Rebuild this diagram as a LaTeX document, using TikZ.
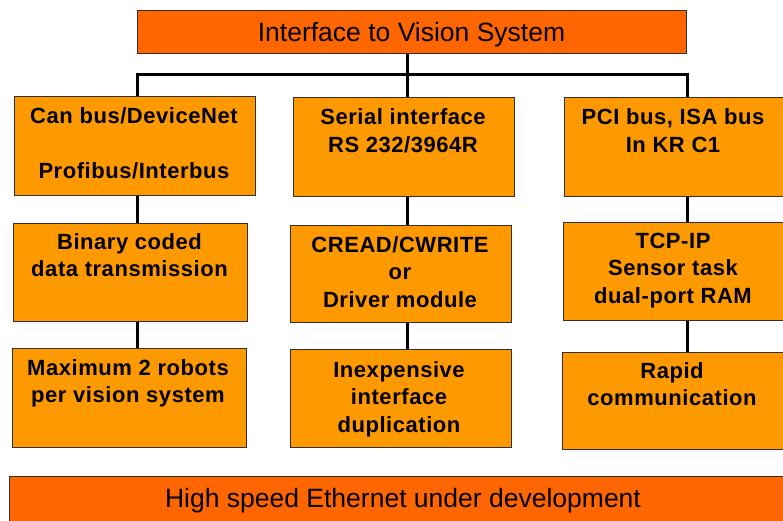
\documentclass[tikz,border=0pt]{standalone}
\usepackage{fontspec}
\setmainfont{Liberation Sans}
\newfontfamily\boxfont[LetterSpace=2.5]{Liberation Sans}
\usetikzlibrary{backgrounds}
\definecolor{boxor}{HTML}{FF9900}
\definecolor{baror}{HTML}{FF6600}
\definecolor{edgec}{HTML}{303030}
\begin{document}
\begin{tikzpicture}[x=1pt,y=-1pt,
  box/.style={draw=edgec,line width=1pt,fill=boxor,inner sep=0pt,outer sep=0pt},
  bar/.style={draw=edgec,line width=1pt,fill=baror,inner sep=0pt,outer sep=0pt},
  lbl/.style={anchor=base,inner sep=0pt,font=\boxfont\fontsize{22}{27.5}\selectfont\bfseries},
  big/.style={anchor=base,inner sep=0pt,font=\fontsize{26.5}{30}\selectfont},
  conn/.style={line width=3pt,black,line join=miter}]
\useasboundingbox (0,0) rectangle (783,521);
\clip (0,0) rectangle (783,521);
% boxes
\node[bar,minimum width=549pt,minimum height=43pt] (title) at (411.5,32.5) {};
\node[box,minimum width=241pt,minimum height=99pt] (a1) at (134.5,146.5) {};
\node[box,minimum width=221pt,minimum height=99pt] (b1) at (403.5,147.5) {};
\node[box,minimum width=236pt,minimum height=99pt] (c1) at (682,147.5) {};
\node[box,minimum width=234pt,minimum height=98pt] (a2) at (130,272) {};
\node[box,minimum width=221pt,minimum height=97pt] (b2) at (400.5,273.5) {};
\node[box,minimum width=237pt,minimum height=98pt] (c2) at (681.5,271) {};
\node[box,minimum width=234pt,minimum height=99pt] (a3) at (129,397.5) {};
\node[box,minimum width=221pt,minimum height=98pt] (b3) at (400.5,398) {};
\node[box,minimum width=238pt,minimum height=97pt] (c3) at (681,400.5) {};
\node[bar,minimum width=791pt,minimum height=54pt] (bottom) at (404.5,503) {};
% texts
\node[big] (titletext) at (411.5,41.5) {Interface to Vision System};
\node[big] (bottomtext) at (403,507) {High speed Ethernet under development};
\node[lbl] (ta1) at (134,124) {\begin{tabular}[t]{@{}c@{}}Can bus/DeviceNet\\ \\Profibus/Interbus\end{tabular}};
\node[lbl] (tb1) at (403,125) {\begin{tabular}[t]{@{}c@{}}Serial interface\\RS 232/3964R\end{tabular}};
\node[lbl] (tc1) at (673,125) {\begin{tabular}[t]{@{}c@{}}PCI bus, ISA bus\\In KR C1\end{tabular}};
\node[lbl] (ta2) at (129.5,249) {\begin{tabular}[t]{@{}c@{}}Binary coded\\data transmission\end{tabular}};
\node[lbl] (tb2) at (400,252) {\begin{tabular}[t]{@{}c@{}}CREAD/CWRITE\\or\\Driver module\end{tabular}};
\node[lbl] (tc2) at (673,248) {\begin{tabular}[t]{@{}c@{}}TCP-IP\\Sensor task\\dual-port RAM\end{tabular}};
\node[lbl] (ta3) at (128,375) {\begin{tabular}[t]{@{}c@{}}Maximum 2 robots\\per vision system\end{tabular}};
\node[lbl] (tb3) at (399,377) {\begin{tabular}[t]{@{}c@{}}Inexpensive\\interface\\duplication\end{tabular}};
\node[lbl] (tc3) at (672,378) {\begin{tabular}[t]{@{}c@{}}Rapid\\communication\end{tabular}};
% connectors
\coordinate (busL) at (137,75);
\coordinate (busM) at (407,75);
\coordinate (busR) at (687,75);
\begin{pgfonlayer}{background}
\draw[conn] (title.south -| busM) -- (busM);
\draw[conn] (busL |- a1.north) -- (busL) -- (busR) -- (busR |- c1.north);
\draw[conn] (busM) -- (busM |- b1.north);
\draw[conn] (a1.south -| busL) -- (a2.north -| busL);
\draw[conn] (a2.south -| busL) -- (a3.north -| busL);
\draw[conn] (b1.south -| busM) -- (b2.north -| busM);
\draw[conn] (b2.south -| busM) -- (b3.north -| busM);
\draw[conn] (c1.south -| busR) -- (c2.north -| busR);
\draw[conn] (c2.south -| busR) -- (c3.north -| busR);
\end{pgfonlayer}
\end{tikzpicture}
\end{document}
